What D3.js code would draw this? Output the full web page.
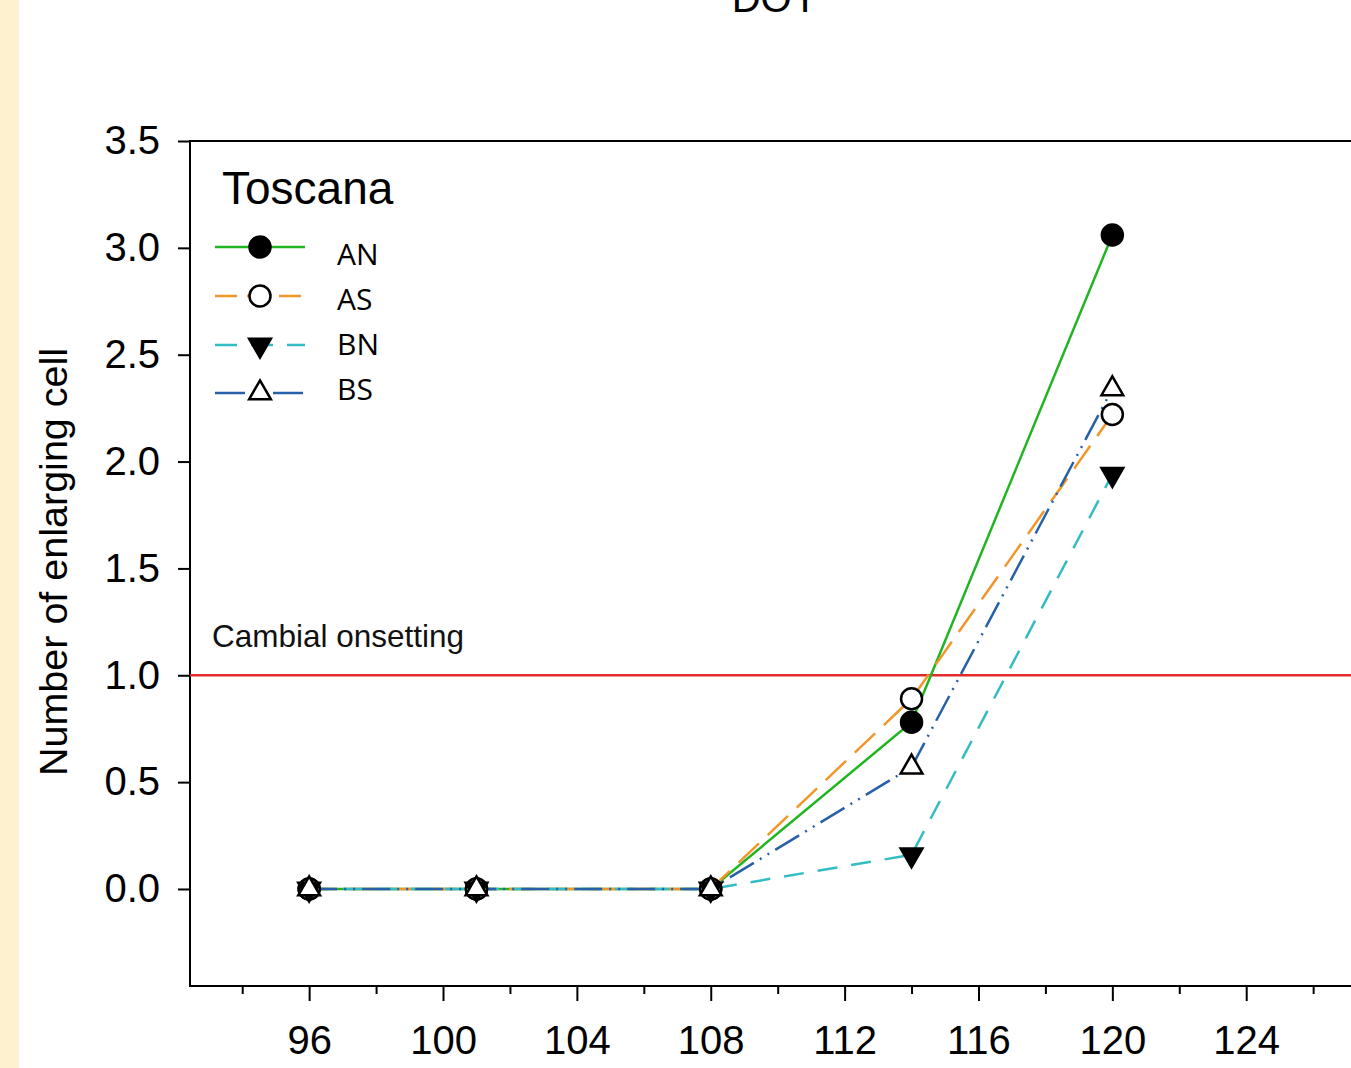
<!DOCTYPE html>
<html>
<head>
<meta charset="utf-8">
<script src="https://cdn.jsdelivr.net/npm/d3@7"></script>
<style>
  html, body { margin: 0; padding: 0; background: #ffffff; overflow: hidden; }
  svg { display: block; }
</style>
</head>
<body>
<svg id="chart" width="1351" height="1068"></svg>
<script>
// ---- data ----
const doy = [96, 101, 108, 114, 120];
const seriesNames = ["AN", "AS", "BN", "BS"];
const valuesAN = [0, 0, 0, 0.78, 3.06];
const valuesAS = [0, 0, 0, 0.89, 2.22];
const valuesBN = [0, 0, 0, 0.16, 1.94];
const valuesBS = [0, 0, 0, 0.57, 2.34];
const xMajorTicks = [96, 100, 104, 108, 112, 116, 120, 124];
const xMinorTicks = [94, 98, 102, 106, 110, 114, 118, 122, 126];
const yTicks = [0, 0.5, 1.0, 1.5, 2.0, 2.5, 3.0, 3.5];
const thresholdValue = 1.0;
const thresholdLabel = "Cambial onsetting";
const legendTitle = "Toscana";
const xTitle = "DOY";
const yTitle = "Number of enlarging cell";

// ---- styles ----
const styles = {
  AN: { color: "#22b522", dash: null, marker: "circle", fill: "#000" },
  AS: { color: "#f0962a", dash: "28,12", marker: "circle", fill: "#fff" },
  BN: { color: "#33bcc4", dash: "20,14", marker: "triDown", fill: "#000" },
  BS: { color: "#2860a8", dash: "28,7,2,7,2,7", marker: "triUp", fill: "#fff" }
};
const seriesValues = { AN: valuesAN, AS: valuesAS, BN: valuesBN, BS: valuesBS };

const svg = d3.select("#chart");
const W = 1351, H = 1068;
const mLeft = 190, mTop = 141, mRight = 1360, mBottom = 986;

// background strip
svg.append("rect").attr("x", 0).attr("y", 0).attr("width", 19).attr("height", H).attr("fill", "#fef1cf");

const x = d3.scaleLinear().domain([92.44, 127.4]).range([mLeft, mRight]);
const y = d3.scaleLinear().domain([-0.454, 3.5]).range([mBottom, mTop]);

const axisFont = "'Liberation Sans', Arial, sans-serif";

// x axis
const xAxisMajor = d3.axisBottom(x).tickValues(xMajorTicks).tickSize(15).tickPadding(25).tickFormat(d3.format("d"));
const gx = svg.append("g").attr("transform", `translate(0,${mBottom})`).call(xAxisMajor);
gx.select(".domain").remove();
gx.selectAll(".tick line").attr("stroke", "#000").attr("stroke-width", 2);
gx.selectAll(".tick text").attr("font-family", axisFont).attr("font-size", 40).attr("fill", "#000");
const xAxisMinor = d3.axisBottom(x).tickValues(xMinorTicks).tickSize(8).tickFormat("");
const gxm = svg.append("g").attr("transform", `translate(0,${mBottom})`).call(xAxisMinor);
gxm.select(".domain").remove();
gxm.selectAll(".tick line").attr("stroke", "#000").attr("stroke-width", 2);

// y axis
const yAxis = d3.axisLeft(y).tickValues(yTicks).tickSize(12).tickPadding(18).tickFormat(d3.format(".1f"));
const gy = svg.append("g").attr("transform", `translate(${mLeft},0)`).call(yAxis);
gy.select(".domain").remove();
gy.selectAll(".tick line").attr("stroke", "#000").attr("stroke-width", 2);
gy.selectAll(".tick text").attr("font-family", axisFont).attr("font-size", 40).attr("fill", "#000");

// frame
svg.append("rect").attr("x", mLeft).attr("y", mTop).attr("width", mRight - mLeft).attr("height", mBottom - mTop)
  .attr("fill", "none").attr("stroke", "#000").attr("stroke-width", 2);

// titles
svg.append("text").attr("x", (mLeft + mRight) / 2).attr("y", 12).attr("text-anchor", "middle")
  .attr("font-family", axisFont).attr("font-size", 40).attr("fill", "#000").text(xTitle);
svg.append("text").attr("transform", "translate(67,562) rotate(-90)").attr("text-anchor", "middle")
  .attr("font-family", axisFont).attr("font-size", 39.5).attr("fill", "#000").text(yTitle);

// threshold
svg.append("line").attr("x1", mLeft).attr("x2", mRight).attr("y1", y(thresholdValue)).attr("y2", y(thresholdValue))
  .attr("stroke", "#e22a2a").attr("stroke-width", 2.5);
svg.append("text").attr("x", 212).attr("y", 647).attr("font-family", axisFont).attr("font-size", 31.5)
  .attr("fill", "#111").text(thresholdLabel);

// markers
function drawMarker(g, type, cx, cy, fill) {
  if (type === "circle") {
    g.append("circle").attr("cx", cx).attr("cy", cy).attr("r", 10.5)
      .attr("fill", fill).attr("stroke", "#000").attr("stroke-width", 2.5);
  } else {
    const sym = d3.symbol().type(d3.symbolTriangle).size(205);
    g.append("path").attr("d", sym())
      .attr("transform", `translate(${cx},${cy})` + (type === "triDown" ? " rotate(180)" : ""))
      .attr("fill", fill).attr("stroke", "#000").attr("stroke-width", 2.5).attr("stroke-linejoin", "miter");
  }
}

const line = d3.line().x((d, i) => x(doy[i])).y(d => y(d));
const linesG = svg.append("g");
const markersG = svg.append("g");
seriesNames.forEach(name => {
  const st = styles[name];
  linesG.append("path").attr("d", line(seriesValues[name])).attr("fill", "none")
    .attr("stroke", st.color).attr("stroke-width", 2.5)
    .attr("stroke-dasharray", st.dash);
});
seriesNames.forEach(name => {
  const st = styles[name];
  seriesValues[name].forEach((v, i) => drawMarker(markersG, st.marker, x(doy[i]), y(v), st.fill));
});

// legend
svg.append("text").attr("x", 222).attr("y", 204).attr("font-family", axisFont).attr("font-size", 46)
  .attr("fill", "#000").text(legendTitle);
const legendYs = [247, 296, 345, 393];
const legendTextYs = [265, 310, 355, 400];
const legendDash = { AN: null, AS: "22,10", BN: "22,14", BS: "30,28" };
seriesNames.forEach((name, i) => {
  const st = styles[name];
  svg.append("line").attr("x1", 215).attr("x2", 305).attr("y1", legendYs[i]).attr("y2", legendYs[i])
    .attr("stroke", st.color).attr("stroke-width", 2.5).attr("stroke-dasharray", legendDash[name]);
  drawMarker(svg, st.marker, 260, legendYs[i], st.fill);
  svg.append("text").attr("x", 337).attr("y", legendTextYs[i]).attr("font-family", "'Open Sans', sans-serif")
    .attr("font-size", 30).attr("fill", "#000").text(name);
});
</script>
</body>
</html>
